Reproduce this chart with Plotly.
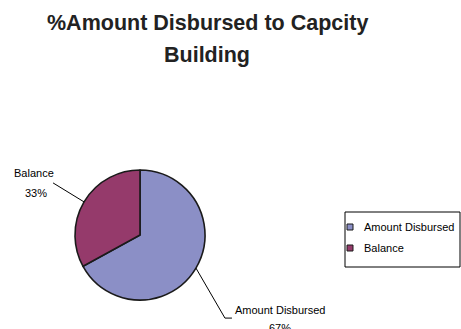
import math
import plotly.graph_objects as go

W, H = 461, 329
labels = ["Amount Disbursed", "Balance"]
values = [67, 33]
colors = ["#8B8FC6", "#953A6B"]
title_lines = ["%Amount Disbursed to Capcity", "Building"]

# pie geometry in pixels (style)
cx, cy, r = 140, 235, 65
FONT = "Liberation Sans, Arial, sans-serif"

def px(x):
    return x / W

def py(y):
    return 1 - y / H

fig = go.Figure(go.Pie(
    labels=labels, values=values, sort=False, direction="clockwise", rotation=0,
    marker=dict(colors=colors, line=dict(color="#1a1a1a", width=1.6)),
    textinfo="none", hoverinfo="label+percent", showlegend=False,
    domain=dict(x=[px(cx - r), px(cx + r)], y=[py(cy + r), py(cy - r)]),
))

# leader lines & labels computed from slice midpoints
total = sum(values)
label_offsets = [  # elbow offset from slice edge, tail length, name / pct offsets from elbow
    dict(elbow=(29, 50), tail=7, name=(55.5, -8), pct=(55.5, 10)),
    dict(elbow=(-31, -19), tail=0, name=(-19, -10), pct=(-17.5, 10)),
]
shapes, annotations = [], []
lab_font = dict(family=FONT, size=11, color="#000000")
cum = 0
for lab, v, off in zip(labels, values, label_offsets):
    mid = (cum + v / 2) / total * 2 * math.pi
    cum += v
    ex, ey = cx + r * math.sin(mid), cy - r * math.cos(mid)
    bx, by = ex + off["elbow"][0], ey + off["elbow"][1]
    path = f"M {px(ex)},{py(ey)} L {px(bx)},{py(by)}"
    if off["tail"]:
        path += f" L {px(bx + off['tail'])},{py(by)}"
    shapes.append(dict(type="path", xref="paper", yref="paper", path=path,
                       line=dict(color="#000000", width=1)))
    pct = round(v / total * 100)
    for txt, (dx, dy) in ((lab, off["name"]), (f"{pct}%", off["pct"])):
        annotations.append(dict(x=px(bx + dx), y=py(by + dy), xref="paper", yref="paper",
                                text=txt, showarrow=False, font=lab_font,
                                xanchor="center", yanchor="middle"))

# title (two centered lines)
for txt, ty in zip(title_lines, (23, 55)):
    annotations.append(dict(x=px(207), y=py(ty), xref="paper", yref="paper",
                            text=f"<b>{txt}</b>", showarrow=False,
                            font=dict(family=FONT, size=21.5, color="#222222"),
                            xanchor="center", yanchor="middle"))

# legend box drawn from the label / colour lists
lx0, ly0, lx1, ly1 = 345, 212, 460, 267
shapes.append(dict(type="rect", xref="paper", yref="paper",
                   x0=px(lx0), x1=px(lx1), y0=py(ly1), y1=py(ly0),
                   line=dict(color="#000000", width=1), fillcolor="white"))
for i, (lab, col) in enumerate(zip(labels, colors)):
    iy = 227 + i * 21
    shapes.append(dict(type="rect", xref="paper", yref="paper",
                       x0=px(347), x1=px(353), y0=py(iy + 3), y1=py(iy - 3),
                       line=dict(color="#1a1a1a", width=1), fillcolor=col))
    annotations.append(dict(x=px(362), y=py(iy), xref="paper", yref="paper",
                            text=lab, showarrow=False, font=lab_font,
                            xanchor="left", yanchor="middle"))

fig.update_layout(
    width=W, height=H,
    margin=dict(l=0, r=0, t=0, b=0, autoexpand=False),
    paper_bgcolor="white", plot_bgcolor="white",
    shapes=shapes, annotations=annotations,
    showlegend=False,
)

fig.write_html("out.html")
